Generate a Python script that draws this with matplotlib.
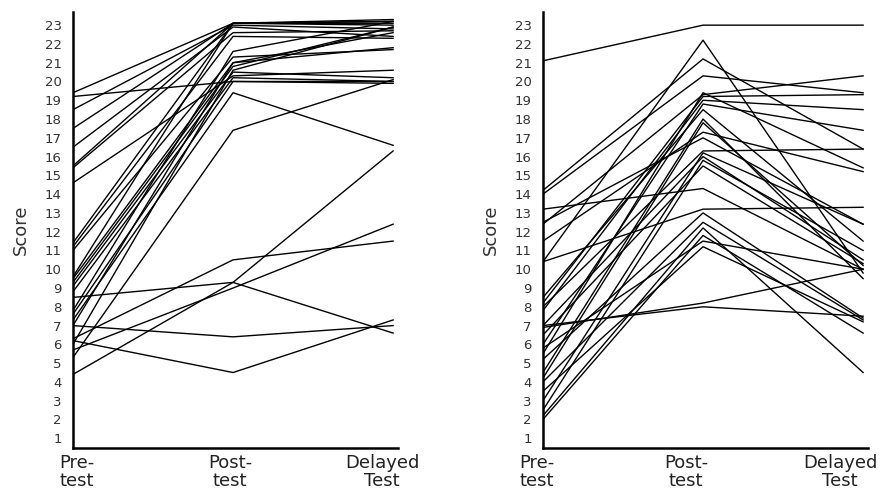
import matplotlib.pyplot as plt
from matplotlib.transforms import offset_copy

plt.rcParams['font.family'] = ['DejaVu Sans']

stages = ['Pre-\ntest', 'Post-\ntest', 'Delayed\nTest']

# left panel: one value per student at each stage
left_pre = [19.4, 19.2, 18.5, 17.5, 16.5, 15.5, 15.4, 14.6, 11.4, 11.2,
            11.0, 9.5, 9.3, 9.1, 8.8, 7.8, 7.6, 7.3, 7.0, 5.3,
            8.5, 7.0, 6.2, 4.4, 6.3, 5.7, 6.0, 9.6]
left_post = [23.1, 20.0, 23.0, 23.1, 22.9, 23.1, 22.6, 20.3, 23.1, 22.4,
             21.3, 21.0, 20.8, 20.5, 20.2, 21.6, 20.0, 19.4, 21.0, 17.4,
             9.3, 6.4, 4.5, 9.3, 10.5, 9.0, 20.6, 23.1]
left_delayed = [23.2, 20.0, 22.8, 23.1, 22.4, 23.3, 22.7, 20.6, 23.0, 22.3,
                21.7, 22.6, 22.9, 20.2, 20.0, 23.2, 19.9, 16.6, 21.8, 20.1,
                6.6, 7.0, 7.3, 16.3, 11.5, 12.4, 22.9, 23.2]

# right panel
right_pre = [21.1, 10.4, 14.2, 14.0, 12.4, 8.2, 7.8, 6.0, 5.5, 4.5,
             4.2, 11.5, 8.0, 3.0, 7.0, 2.5, 6.5, 13.2, 10.4, 5.2,
             2.2, 4.0, 2.0, 3.5, 6.9, 7.0, 8.5, 12.5, 5.8]
right_post = [23.0, 22.2, 21.2, 20.3, 19.3, 19.2, 19.0, 18.8, 19.4, 18.0,
              17.8, 17.3, 16.3, 16.2, 16.0, 15.8, 15.5, 14.3, 13.2, 13.0,
              12.2, 12.5, 11.8, 11.2, 8.2, 8.0, 18.5, 17.0, 11.5]
right_delayed = [23.0, 9.8, 16.4, 19.4, 20.3, 19.3, 18.5, 17.4, 15.4, 9.5,
                 10.2, 15.2, 16.4, 12.4, 10.5, 11.0, 10.3, 10.0, 13.3, 7.4,
                 4.5, 7.3, 6.6, 7.2, 10.0, 7.5, 11.5, 12.4, 10.0]

fig = plt.figure(figsize=(8.92, 4.9), dpi=100)
ax1 = fig.add_axes([0.0818, 0.0857, 0.3643, 0.8898])
ax2 = fig.add_axes([0.6087, 0.0857, 0.3643, 0.8898])

panels = [(ax1, left_pre, left_post, left_delayed, [4, -3, -11]),
          (ax2, right_pre, right_post, right_delayed, [-6, -17, -23])]

for ax, pre, post, delayed, shifts in panels:
    for a, b, c in zip(pre, post, delayed):
        ax.plot([0, 1, 2], [a, b, c], color='black', lw=1.0)
    ax.set_xlim(0, 2.03)
    ax.set_ylim(0.48, 23.7)
    ax.set_yticks(range(1, 24))
    ax.set_xticks([0, 1, 2])
    ax.set_xticklabels(stages, fontsize=13, color='#222222', linespacing=1.05)
    ax.tick_params(axis='y', length=0, pad=8, labelsize=9.5, labelcolor='#333333')
    ax.tick_params(axis='x', length=0, pad=4)
    # nudge the stage labels sideways like in the original
    for lab, dx in zip(ax.get_xticklabels(), shifts):
        lab.set_transform(offset_copy(lab.get_transform(), fig=fig, x=dx, units='dots'))
    ax.set_ylabel('Score', fontsize=13, color='#333333',
                  family=['Liberation Sans Narrow', 'DejaVu Sans Condensed', 'DejaVu Sans'])
    ax.yaxis.set_label_coords(-0.132, 0.5)
    for side in ['top', 'right']:
        ax.spines[side].set_visible(False)
    for side in ['left', 'bottom']:
        ax.spines[side].set_linewidth(1.8)

plt.savefig('out.png')
